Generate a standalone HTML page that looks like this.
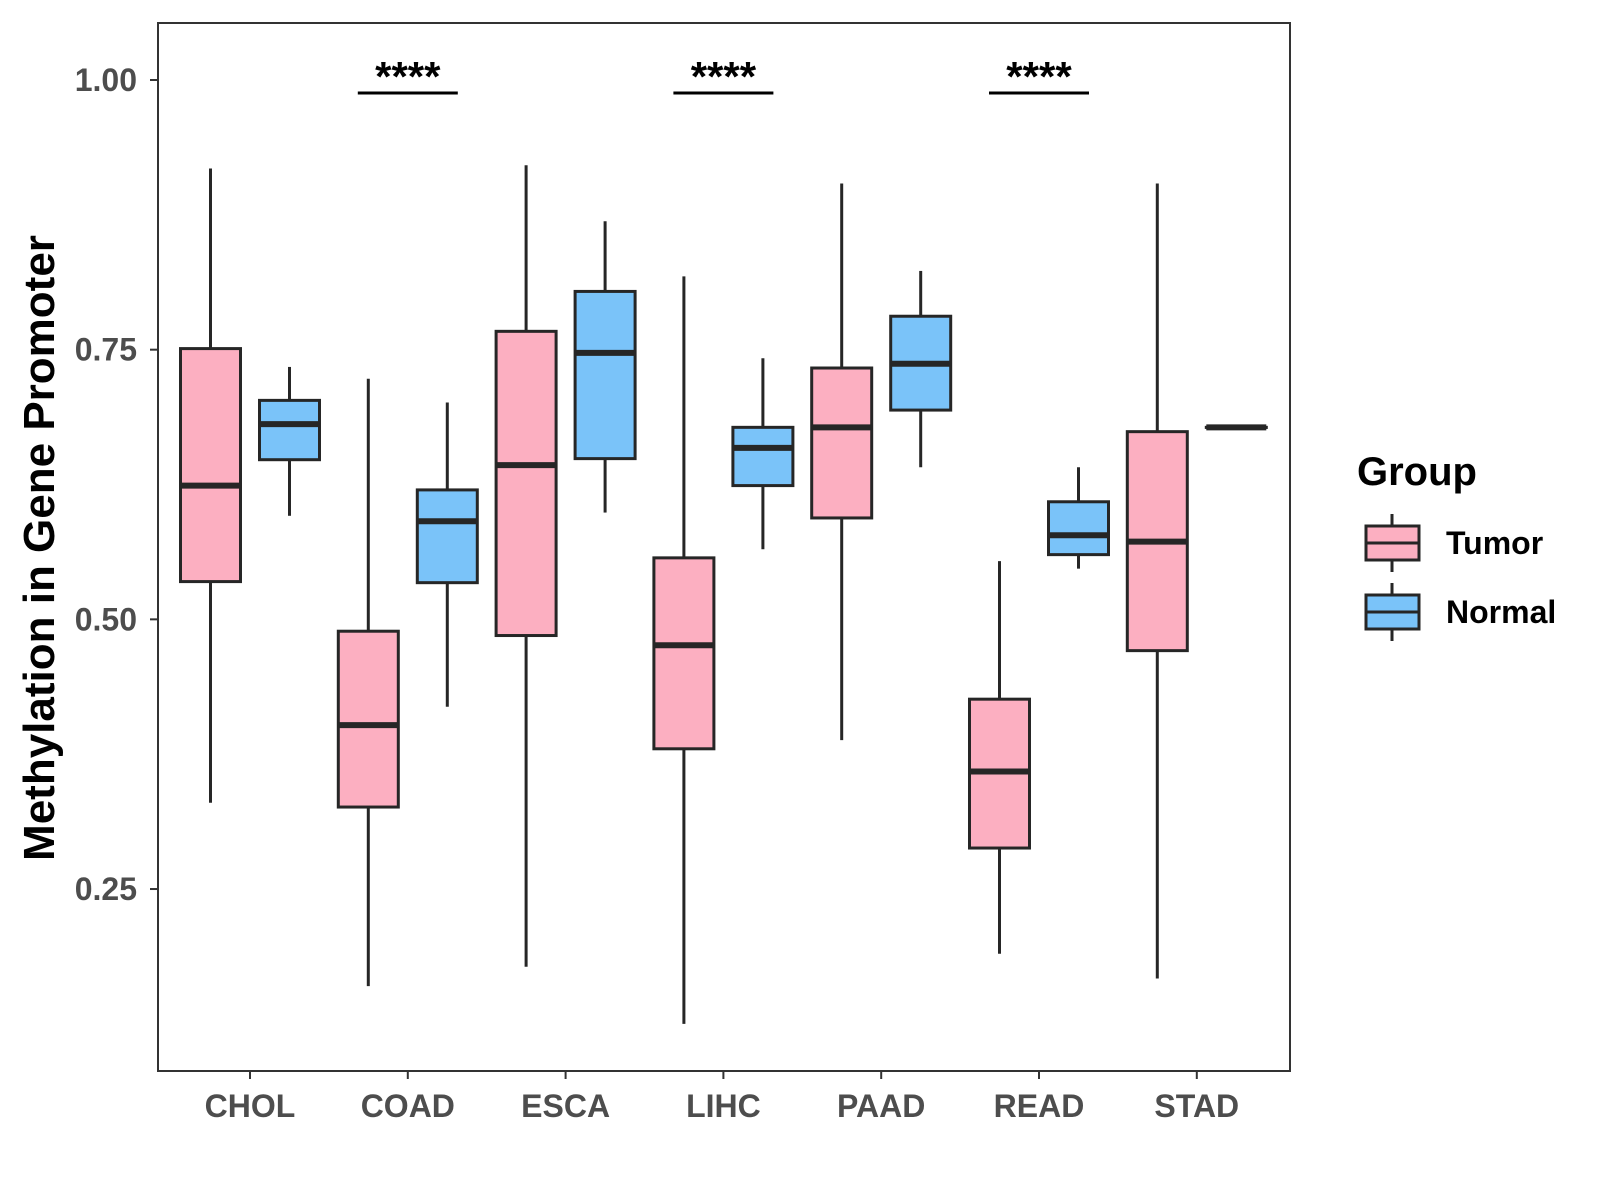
<!DOCTYPE html>
<html><head><meta charset="utf-8"><style>
body{margin:0;background:#fff;}
svg{display:block;font-family:"Liberation Sans",Arial,sans-serif;}
</style></head><body>
<svg id="chart" width="1600" height="1200" viewBox="0 0 1600 1200">
<rect x="0" y="0" width="1600" height="1200" fill="#fff"/>
<g id="plot"></g>
<rect x="158" y="23" width="1132" height="1048" fill="none" stroke="#333" stroke-width="2"/>
<text transform="translate(54,548) rotate(-90)" text-anchor="middle" font-size="44" font-weight="bold" fill="#000">Methylation in Gene Promoter</text>
<text x="1357" y="485" font-size="40" font-weight="bold" fill="#000">Group</text>
<g id="legend"></g>
</svg>
<script>
const categories=["CHOL","COAD","ESCA","LIHC","PAAD","READ","STAD"];
const tumorLow=[0.330,0.160,0.178,0.125,0.388,0.190,0.167];
const tumorQ1=[0.535,0.326,0.485,0.380,0.594,0.288,0.471];
const tumorMed=[0.624,0.402,0.643,0.476,0.678,0.359,0.572];
const tumorQ3=[0.751,0.489,0.767,0.557,0.733,0.426,0.674];
const tumorHigh=[0.918,0.723,0.921,0.818,0.904,0.554,0.904];
const normalLow=[0.596,0.419,0.599,0.565,0.641,0.547,0.678];
const normalQ1=[0.648,0.534,0.649,0.624,0.694,0.560,0.678];
const normalMed=[0.681,0.591,0.747,0.659,0.737,0.578,0.678];
const normalQ3=[0.703,0.620,0.804,0.678,0.781,0.609,0.678];
const normalHigh=[0.734,0.701,0.869,0.742,0.823,0.641,0.678];
const yTicks=[0.25,0.50,0.75,1.00];
const yTickLabels=["0.25","0.50","0.75","1.00"];
const sigCategories=["COAD","LIHC","READ"];
const sigLabels=["****","****","****"];
const sigLevel=0.988;

const NS="http://www.w3.org/2000/svg";
const plot=document.getElementById('plot');
const xs=i=>250+i*157.8;
const ys=v=>80+(1-v)*1078.7;
function mk(tag,attrs,parent){const e=document.createElementNS(NS,tag);for(const k in attrs)e.setAttribute(k,attrs[k]);(parent||plot).appendChild(e);return e;}

yTicks.forEach((t,i)=>{
  const l=mk('line',{x1:150,x2:158,y1:ys(t),y2:ys(t),stroke:'#333','stroke-width':2});
  
  
  const tx=mk('text',{x:137,y:ys(t)+11,'text-anchor':'end','font-size':32,'font-weight':'bold',fill:'#4d4d4d'});
  tx.textContent=yTickLabels[i];
  
  
});
categories.forEach((c,i)=>{
  const l=mk('line',{x1:xs(i),x2:xs(i),y1:1071,y2:1079,stroke:'#333','stroke-width':2});
  
  
  const tx=mk('text',{x:xs(i),y:1117,'text-anchor':'middle','font-size':32,'font-weight':'bold',fill:'#4d4d4d'});
  tx.textContent=c;
  
  
});
function box(cx,lo,q1,md,q3,hi,fill,name){
  const g=mk('g',{});
  
  
  const w=60;
  mk('line',{x1:cx,x2:cx,y1:ys(hi),y2:ys(q3),stroke:'#262626','stroke-width':3},g);
  mk('line',{x1:cx,x2:cx,y1:ys(q1),y2:ys(lo),stroke:'#262626','stroke-width':3},g);
  mk('rect',{x:cx-w/2,y:ys(q3),width:w,height:Math.max(ys(q1)-ys(q3),0.1),fill:fill,stroke:'#262626','stroke-width':3},g);
  mk('line',{x1:cx-w/2,x2:cx+w/2,y1:ys(md),y2:ys(md),stroke:'#262626','stroke-width':6},g);
}
categories.forEach((c,i)=>{
  box(xs(i)-39.5,tumorLow[i],tumorQ1[i],tumorMed[i],tumorQ3[i],tumorHigh[i],'#FCAFC1','box-tumor-'+c.toLowerCase());
  box(xs(i)+39.5,normalLow[i],normalQ1[i],normalMed[i],normalQ3[i],normalHigh[i],'#7AC3F9','box-normal-'+c.toLowerCase());
});
sigCategories.forEach((c,j)=>{
  const i=categories.indexOf(c);
  const l=mk('line',{x1:xs(i)-50,x2:xs(i)+50,y1:ys(sigLevel),y2:ys(sigLevel),stroke:'#000','stroke-width':3});
  
  
  const t=mk('text',{x:xs(i),y:ys(sigLevel)-2,'text-anchor':'middle','font-size':42,'font-weight':'bold',fill:'#000'});
  t.textContent=sigLabels[j];
  
  
});
const lg=document.getElementById('legend');
[["Tumor","#FCAFC1",543],["Normal","#7AC3F9",612]].forEach(([lab,f,cy])=>{
  const g=mk('g',{},lg);
  
  
  mk('line',{x1:1392,x2:1392,y1:cy-29,y2:cy+29,stroke:'#262626','stroke-width':3},g);
  mk('rect',{x:1366,y:cy-17,width:53,height:34,fill:f,stroke:'#262626','stroke-width':3},g);
  mk('line',{x1:1366,x2:1419,y1:cy,y2:cy,stroke:'#262626','stroke-width':3},g);
  const t=mk('text',{x:1446,y:cy+11,'font-size':32,'font-weight':'bold',fill:'#000'},g);
  t.textContent=lab;
});
</script>
</body></html>
